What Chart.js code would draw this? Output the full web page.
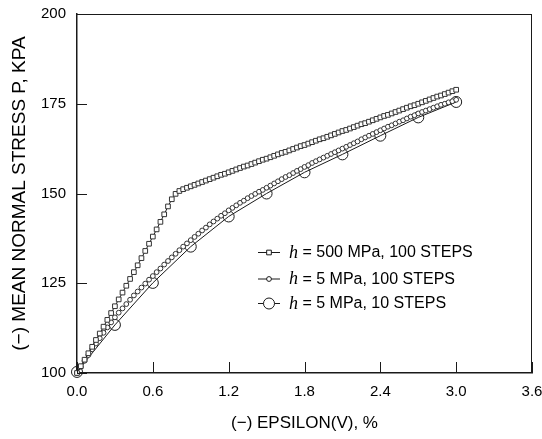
<!DOCTYPE html>
<html>
<head>
<meta charset="utf-8">
<script src="https://cdn.jsdelivr.net/npm/chart.js@4.4.1/dist/chart.umd.min.js"></script>
<style>
  html, body { margin: 0; padding: 0; background: #ffffff; }
  #wrap { width: 542px; height: 439px; }
</style>
</head>
<body>
<div id="wrap"><canvas id="c" width="542" height="439"></canvas></div>
<script>
// ---------- data ----------
const seriesLabels = ['h = 500 MPa, 100 STEPS', 'h = 5 MPa, 100 STEPS', 'h = 5 MPa, 10 STEPS'];

const strain100 = [
  0.00,0.03,0.06,0.09,0.12,0.15,0.18,0.21,0.24,0.27,
  0.30,0.33,0.36,0.39,0.42,0.45,0.48,0.51,0.54,0.57,
  0.60,0.63,0.66,0.69,0.72,0.75,0.78,0.81,0.84,0.87,
  0.90,0.93,0.96,0.99,1.02,1.05,1.08,1.11,1.14,1.17,
  1.20,1.23,1.26,1.29,1.32,1.35,1.38,1.41,1.44,1.47,
  1.50,1.53,1.56,1.59,1.62,1.65,1.68,1.71,1.74,1.77,
  1.80,1.83,1.86,1.89,1.92,1.95,1.98,2.01,2.04,2.07,
  2.10,2.13,2.16,2.19,2.22,2.25,2.28,2.31,2.34,2.37,
  2.40,2.43,2.46,2.49,2.52,2.55,2.58,2.61,2.64,2.67,
  2.70,2.73,2.76,2.79,2.82,2.85,2.88,2.91,2.94,2.97,
  3.00
];

const stressH500 = [
  100.0,101.9,103.7,105.5,107.3,109.2,111.0,112.9,114.8,116.7,
  118.6,120.5,122.4,124.3,126.2,128.1,130.0,132.0,134.0,136.0,
  138.0,140.0,142.1,144.2,146.4,148.4,149.9,150.7,151.2,151.6,
  152.0,152.4,152.8,153.2,153.6,154.0,154.4,154.8,155.2,155.5,
  155.9,156.3,156.7,157.1,157.5,157.8,158.2,158.6,159.0,159.4,
  159.7,160.1,160.5,160.9,161.3,161.6,162.0,162.4,162.8,163.2,
  163.5,163.9,164.3,164.7,165.1,165.4,165.8,166.2,166.6,167.0,
  167.4,167.7,168.1,168.5,168.9,169.3,169.6,170.0,170.4,170.8,
  171.2,171.6,171.9,172.3,172.7,173.1,173.5,173.9,174.3,174.6,
  175.0,175.4,175.8,176.2,176.6,177.0,177.3,177.7,178.1,178.5,
  178.9
];

const stressH5 = [
  100.0,101.7,103.4,105.0,106.6,108.2,109.7,111.2,112.7,114.1,
  115.5,116.8,118.0,119.2,120.4,121.6,122.7,123.8,124.9,126.0,
  127.0,128.1,129.1,130.2,131.2,132.2,133.2,134.2,135.2,136.1,
  137.0,137.9,138.8,139.7,140.5,141.4,142.2,143.0,143.8,144.5,
  145.3,146.0,146.7,147.4,148.0,148.7,149.3,149.9,150.5,151.0,
  151.6,152.2,152.8,153.4,154.0,154.6,155.1,155.7,156.3,156.8,
  157.4,157.9,158.5,159.0,159.5,160.0,160.5,161.0,161.5,162.0,
  162.5,163.0,163.5,164.0,164.5,165.1,165.6,166.1,166.6,167.1,
  167.6,168.1,168.6,169.0,169.5,170.0,170.4,170.9,171.4,171.8,
  172.3,172.7,173.1,173.5,173.9,174.3,174.7,175.0,175.4,175.7,
  176.1
];

const strain10 = [0.0,0.3,0.6,0.9,1.2,1.5,1.8,2.1,2.4,2.7,3.0];
const stressH5s10 = [100.3,113.4,125.1,135.2,143.6,150.0,155.9,160.9,166.1,171.2,175.5];

const xTickLabels = ['0.0','0.6','1.2','1.8','2.4','3.0','3.6'];
const yTickLabels = ['100','125','150','175','200'];
const xTitle = '(\u2212) EPSILON(V), %';
const yTitle = '(\u2212) MEAN NORMAL STRESS P, KPA';

// ---------- chart ----------
const toPts = (xs, ys) => xs.map((x, i) => ({ x: x, y: ys[i] }));
const INK = '#1a1a1a';
const SANS = '"Liberation Sans", Arial, Helvetica, sans-serif';

const frameAndTicks = {
  id: 'frameAndTicks',
  afterDatasetsDraw(chart) {
    const ctx = chart.ctx;
    const a = chart.chartArea;
    const xs = chart.scales.x, ys = chart.scales.y;
    ctx.save();
    ctx.strokeStyle = INK;
    ctx.lineWidth = 1;
    ctx.beginPath();
    ctx.moveTo(a.left, a.top + 0.5); ctx.lineTo(a.right, a.top + 0.5);
    ctx.moveTo(a.right - 0.5, a.top); ctx.lineTo(a.right - 0.5, a.bottom);
    ctx.stroke();
    ctx.beginPath();
    xs.ticks.forEach(t => {
      const px = Math.round(xs.getPixelForValue(t.value)) + 0.5;
      ctx.moveTo(px, a.bottom); ctx.lineTo(px, a.bottom - 11);
    });
    ys.ticks.forEach(t => {
      const py = Math.round(ys.getPixelForValue(t.value)) + 0.5;
      ctx.moveTo(a.left, py); ctx.lineTo(a.left + 10, py);
    });
    ctx.stroke();
    ctx.restore();
  }
};

const insideLegend = {
  id: 'insideLegend',
  afterDraw(chart) {
    const ctx = chart.ctx;
    const a = chart.chartArea;
    const lineX0 = a.left + 181, lineX1 = a.left + 203, symX = a.left + 192, textX = a.left + 212;
    const rowY = [a.top + 238, a.top + 264.5, a.top + 289];
    ctx.save();
    chart.data.datasets.forEach((ds, i) => {
      const y = rowY[i];
      ctx.strokeStyle = INK; ctx.lineWidth = 1;
      ctx.beginPath(); ctx.moveTo(lineX0, y + 0.5); ctx.lineTo(lineX1, y + 0.5); ctx.stroke();
      ctx.fillStyle = '#ffffff';
      ctx.beginPath();
      if (ds.pointStyle === 'rect') {
        const s = Math.SQRT1_2 * ds.pointRadius;
        ctx.rect(symX - s, y + 0.5 - s, 2 * s, 2 * s);
      } else {
        ctx.arc(symX, y + 0.5, ds.pointRadius, 0, Math.PI * 2);
      }
      ctx.fill(); ctx.stroke();
      const label = ds.label;
      ctx.fillStyle = '#000000';
      ctx.textBaseline = 'middle';
      ctx.textAlign = 'left';
      ctx.font = 'italic 18px "Liberation Serif", "Times New Roman", serif';
      ctx.fillText(label.charAt(0), textX, y + 1);
      const w = ctx.measureText(label.charAt(0)).width;
      ctx.font = '16px ' + SANS;
      ctx.fillText(label.slice(1), textX + w, y + 1);
    });
    ctx.restore();
  }
};

new Chart(document.getElementById('c'), {
  type: 'line',
  data: {
    datasets: [
      {
        label: seriesLabels[0],
        data: toPts(strain100, stressH500),
        borderColor: INK, borderWidth: 1, clip: false,
        pointStyle: 'rect', pointRadius: 3.3,
        pointBackgroundColor: '#ffffff', pointBorderColor: '#333333', pointBorderWidth: 1,
        tension: 0, fill: false
      },
      {
        label: seriesLabels[1],
        data: toPts(strain100, stressH5),
        borderColor: INK, borderWidth: 1, clip: false,
        pointStyle: 'circle', pointRadius: 2.4,
        pointBackgroundColor: '#ffffff', pointBorderColor: '#333333', pointBorderWidth: 1,
        tension: 0, fill: false
      },
      {
        label: seriesLabels[2],
        data: toPts(strain10, stressH5s10),
        borderColor: INK, borderWidth: 1, clip: false,
        pointStyle: 'circle', pointRadius: 5.5,
        pointBackgroundColor: 'rgba(255,255,255,0)', pointBorderColor: INK, pointBorderWidth: 1,
        tension: 0, fill: false
      }
    ]
  },
  options: {
    responsive: false,
    animation: false,
    events: [],
    layout: { padding: { top: 14, right: 10, left: 0, bottom: 0 } },
    plugins: { legend: { display: false }, tooltip: { enabled: false } },
    scales: {
      x: {
        type: 'linear', min: 0, max: 3.6,
        afterBuildTicks: s => { s.ticks = xTickLabels.map(t => ({ value: parseFloat(t) })); },
        afterFit: s => { s.height = 66; s.paddingLeft = 0; s.paddingRight = 0; },
        grid: { display: true, drawOnChartArea: false, drawTicks: false },
        border: { display: true, color: INK, width: 1.5 },
        ticks: {
          padding: 10, color: '#000', font: { family: SANS, size: 15 },
          maxRotation: 0, autoSkip: false,
          callback: (v) => xTickLabels.find(t => Math.abs(parseFloat(t) - v) < 1e-6)
        },
        title: { display: true, text: xTitle, color: '#000', font: { family: SANS, size: 17 }, padding: { top: 0, bottom: 5 } }
      },
      y: {
        type: 'linear', min: 100, max: 200,
        afterBuildTicks: s => { s.ticks = yTickLabels.map(t => ({ value: parseFloat(t) })); },
        afterFit: s => { s.width = 77; s.paddingTop = 0; s.paddingBottom = 0; },
        grid: { display: true, drawOnChartArea: false, drawTicks: false },
        border: { display: true, color: INK, width: 1.5 },
        ticks: {
          padding: 11, color: '#000', font: { family: SANS, size: 15 },
          autoSkip: false,
          callback: (v) => yTickLabels.find(t => Math.abs(parseFloat(t) - v) < 1e-6)
        },
        title: { display: true, text: yTitle, color: '#000', font: { family: SANS, size: 19 }, padding: { top: 8, bottom: 0 } }
      }
    }
  },
  plugins: [frameAndTicks, insideLegend]
});
</script>
</body>
</html>
